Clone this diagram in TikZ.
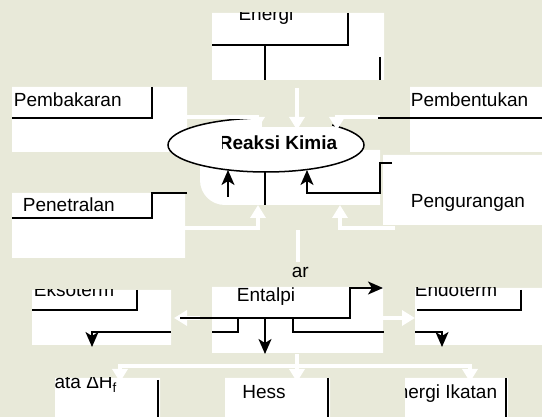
\documentclass[tikz,border=0pt]{standalone}
\usepackage{fontspec}
\setmainfont{Liberation Sans}
\usetikzlibrary{arrows.meta}
\definecolor{paper}{RGB}{232,233,217}
\begin{document}
\begin{tikzpicture}[x=1pt,y=-1pt,line width=1.8pt,
    word/.style={font=\fontsize{19}{21}\selectfont,inner sep=0pt,anchor=base west},
    tip/.style={-{Stealth[length=15pt,width=13pt,inset=4pt]}},
    ghost/.style={white,line width=3.5pt,-{Triangle[length=13pt,width=15pt]}}]
  \useasboundingbox (0,0) rectangle (542,417);
  \fill[paper] (0,0) rectangle (542,417);
  \fill[white]
    (212,13) rectangle (384,80)
    (12,87) rectangle (187,152)
    (410,87) rectangle (542,152)
    (12,193) rectangle (185,258)
    (383,155) rectangle (542,225)
    (32,290) rectangle (171,345)
    (415,288) rectangle (542,345)
    (212,287) rectangle (383,353)
    (55,378) rectangle (160,417)
    (225,378) rectangle (330,417)
    (405,378) rectangle (508,417);
  \fill[white] (200,150) -- (380,150) -- (380,205) -- (225,205)
    .. controls (211,205) and (200,194) .. (200,180) -- cycle;
  \draw[line width=1.5pt,fill=white] (266,145) ellipse [x radius=98pt,y radius=27pt];
  \fill[paper] (262,108) rectangle (332,127);
  \draw
    (13,107) node[word] (pembakaran) {Pembakaran}
    (410,107) node[word] (pembentukan) {Pembentukan}
    (22,212) node[word] (penetralan) {Penetralan}
    (410,208) node[word] (pengurangan) {Pengurangan}
    (266,302) node[word,anchor=base] (entalpi) {Entalpi}
    (291,278) node[word] (besar) {ar}
    (264,399) node[word,anchor=base] (hess) {Hess};
  \begin{scope}
    \clip (212,13) rectangle (384,80);
    \node[word,anchor=base] (energi) at (266,21) {Energi};
  \end{scope}
  \begin{scope}
    \clip (222,120) rectangle (370,170);
    \node[font=\bfseries\fontsize{19}{20}\selectfont,inner sep=0pt] (reaksi) at (278,143) {Reaksi Kimia};
  \end{scope}
  \begin{scope}
    \clip (32,290) rectangle (171,345);
    \node[word] (eksoterm) at (33,297) {Eksoterm};
  \end{scope}
  \begin{scope}
    \clip (415,288) rectangle (542,345);
    \node[word] (endoterm) at (414,297) {Endoterm};
  \end{scope}
  \begin{scope}
    \clip (55,378) rectangle (160,417);
    \node[word] (datah) at (40,389) {Data ΔH\textsubscript{f}};
  \end{scope}
  \begin{scope}
    \clip (405,378) rectangle (508,417);
    \node[word,anchor=base east] (ikatan) at (498,399) {Energi Ikatan};
  \end{scope}
  \begin{scope}[ghost]
    \draw (297,88) -- (297,130);
    \draw (187,117) -| (257,130);
    \draw (380,117) -| (337,130);
    \draw (185,228) -| (258,205);
    \draw (395,228) -| (340,205);
    \draw (200,318) -- (174,318);
    \draw (383,318) -- (415,318);
    \draw (297,354) -- (297,382);
    \draw (297,366) -| (120,382);
    \draw (297,366) -| (470,382);
    \draw[-] (298,230) -- (298,262);
  \end{scope}
  \draw (348,13) |- (212,45);
  \draw (265,45) -- (265,80);
  \draw (380,57) -- (380,80);
  \draw (152,87) |- (12,118);
  \draw (378,118) -- (542,118);
  \draw (187,193) -| (152,218) -- (12,218);
  \draw[tip] (228,197) -- (228,170);
  \draw[tip] (392,163) -| (380,193) -| (307,170);
  \draw (265,172) -- (265,205);
  \draw (137,290) |- (32,310);
  \draw (521,290) |- (417,310);
  \draw[tip] (180,318) -| (350,288) -- (383,288);
  \draw (238,318) |- (212,332);
  \draw[tip] (171,332) -| (92,347);
  \draw (293,318) |- (384,332);
  \draw[tip] (415,332) -| (442,347);
  \draw[tip] (265,318) -- (265,354);
  \draw (158,380) -- (158,417);
  \draw (328,378) -- (328,417);
  \draw (506,378) -- (506,417);
\end{tikzpicture}
\end{document}
